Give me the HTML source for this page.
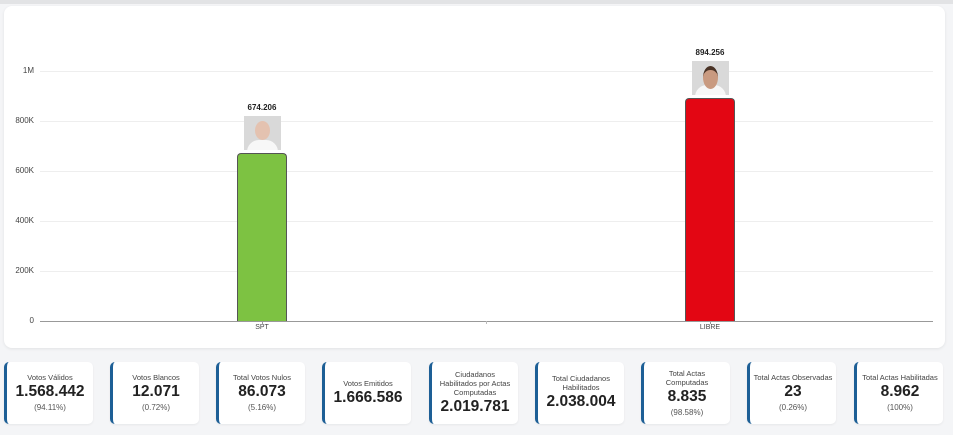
<!DOCTYPE html>
<html><head><meta charset="utf-8"><style>
body{margin:0;width:953px;height:435px;background:#f4f5f7;font-family:"Liberation Sans",sans-serif;position:relative;overflow:hidden}
.top{position:absolute;left:0;top:0;width:953px;height:4px;background:#e2e3e5}
.card{position:absolute;left:4px;top:6px;width:941px;height:342px;background:#fff;border-radius:8px;box-shadow:0 1px 3px rgba(0,0,0,.08)}
.yl{position:absolute;font-size:8px;color:#444;width:30px;text-align:right;left:4px}
.grid{position:absolute;left:40px;width:893px;height:1px;background:#eee}
.bar{position:absolute;width:50px;border:1px solid #555;border-bottom:none;border-radius:4px 4px 0 0;box-sizing:border-box}
.val{position:absolute;font-size:8px;font-weight:bold;color:#222;width:60px;text-align:center}
.ph{position:absolute;width:37px;height:34px;background:#d9d9d9;overflow:hidden}
.ph .h{position:absolute;left:11px;top:5px;width:15px;height:19px;border-radius:50%}
.ph .s{position:absolute;left:3px;top:24px;width:31px;height:14px;border-radius:12px 12px 0 0;background:#f7f7f7}
.cat{position:absolute;top:324px;font-size:7px;color:#444;width:60px;text-align:center}
.st{position:absolute;top:362px;width:89px;height:62px;background:#fff;border-radius:5px;border-left:3px solid #1d5f96;box-sizing:border-box;text-align:center;display:flex;flex-direction:column;justify-content:center;box-shadow:0 1px 2px rgba(0,0,0,.06)}
.st .t{font-size:7.5px;color:#444;line-height:9px}
.st .n{font-size:15.5px;font-weight:bold;color:#222;line-height:20px}
.st .p{font-size:8px;color:#555;line-height:11px}
</style></head><body>
<div class="top"></div>
<div class="card"></div>
<div class="grid" style="top:71px"></div><div class="yl" style="top:66px">1M</div>
<div class="grid" style="top:121px"></div><div class="yl" style="top:116px">800K</div>
<div class="grid" style="top:171px"></div><div class="yl" style="top:166px">600K</div>
<div class="grid" style="top:221px"></div><div class="yl" style="top:216px">400K</div>
<div class="grid" style="top:271px"></div><div class="yl" style="top:266px">200K</div>
<div class="yl" style="top:316px">0</div>
<div style="position:absolute;left:40px;top:321px;width:893px;height:1px;background:#999"></div>
<div style="position:absolute;left:262px;top:321px;width:1px;height:3px;background:#999"></div>
<div style="position:absolute;left:486px;top:321px;width:1px;height:3px;background:#bbb"></div>
<div style="position:absolute;left:710px;top:321px;width:1px;height:3px;background:#999"></div>
<div class="bar" style="left:237px;top:153px;height:168px;background:#7dc242"></div>
<div class="bar" style="left:685px;top:98px;height:223px;background:#e30613"></div>
<div class="val" style="left:232px;top:103px">674.206</div>
<div class="val" style="left:680px;top:48px">894.256</div>
<div class="ph" style="left:244px;top:116px"><div class="s"></div><div class="h" style="background:#e4c2b0"></div></div>
<div class="ph" style="left:692px;top:61px"><div class="s"></div><div class="h" style="background:#c99a80;border-top:4px solid #4a3326"></div></div>
<div class="cat" style="left:232px">SPT</div>
<div class="cat" style="left:680px">LIBRE</div>
<div class="st" style="left:4px"><div class="t">Votos Válidos</div><div class="n">1.568.442</div><div class="p">(94.11%)</div></div>
<div class="st" style="left:110px"><div class="t">Votos Blancos</div><div class="n">12.071</div><div class="p">(0.72%)</div></div>
<div class="st" style="left:216px"><div class="t">Total Votos Nulos</div><div class="n">86.073</div><div class="p">(5.16%)</div></div>
<div class="st" style="left:322px"><div class="t">Votos Emitidos</div><div class="n">1.666.586</div></div>
<div class="st" style="left:429px"><div class="t">Ciudadanos<br>Habilitados por Actas<br>Computadas</div><div class="n">2.019.781</div></div>
<div class="st" style="left:535px"><div class="t">Total Ciudadanos<br>Habilitados</div><div class="n">2.038.004</div></div>
<div class="st" style="left:641px"><div class="t">Total Actas<br>Computadas</div><div class="n">8.835</div><div class="p">(98.58%)</div></div>
<div class="st" style="left:747px"><div class="t">Total Actas Observadas</div><div class="n">23</div><div class="p">(0.26%)</div></div>
<div class="st" style="left:854px"><div class="t">Total Actas Habilitadas</div><div class="n">8.962</div><div class="p">(100%)</div></div>
</body></html>
